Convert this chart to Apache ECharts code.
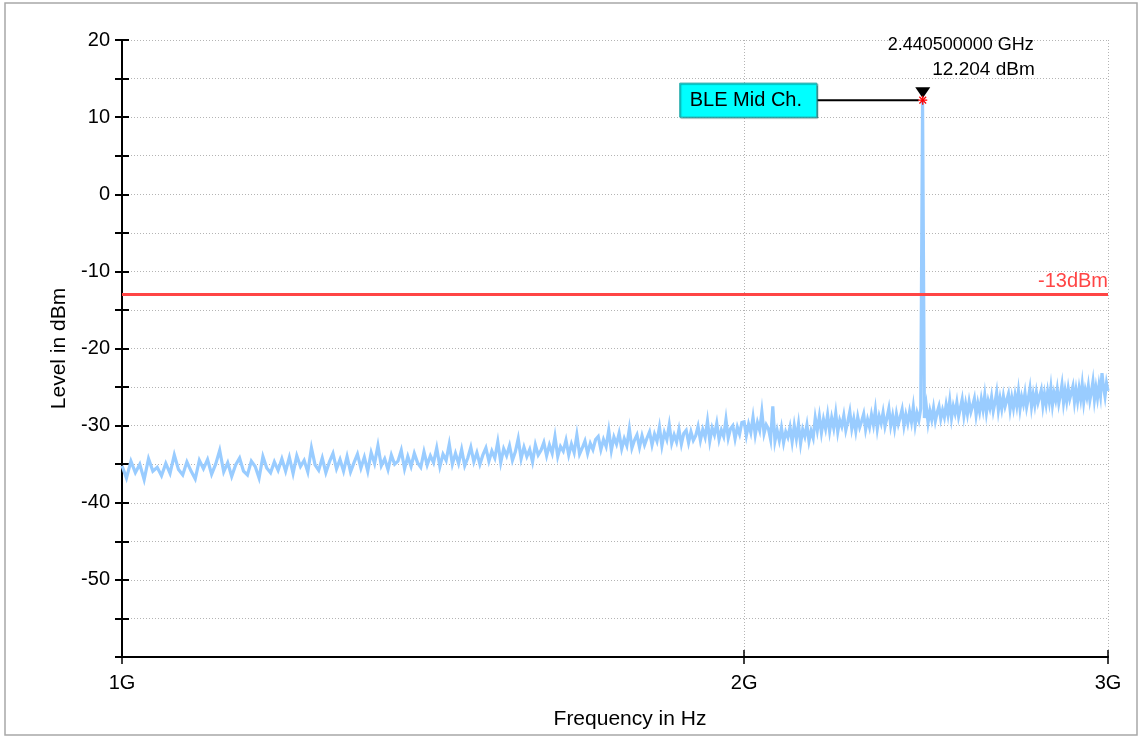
<!DOCTYPE html>
<html>
<head>
<meta charset="utf-8">
<script src="https://cdn.jsdelivr.net/npm/echarts@6/dist/echarts.min.js"></script>
<style>
html,body{margin:0;padding:0;background:#fff;}
#chart{width:1141px;height:740px;}
</style>
</head>
<body>
<div id="chart"></div>
<script>
// Sweep: start frequency and step (MHz), one level per sweep point (dBm)
const sweepStartMHz = 1000;
const sweepStepMHz = 5;
const levels = [
  // 1000-1095
  -35.2,-36.8,-34.6,-36.1,-35.0,-37.0,-34.3,-35.9,-35.4,-36.5,-34.9,-36.2,-33.8,-35.7,-36.4,-34.7,-35.9,-36.9,-34.5,-35.6,
  // 1100-1195
  -34.4,-36.3,-35.0,-33.2,-36.0,-34.8,-36.6,-35.1,-34.2,-35.9,-36.4,-34.6,-35.3,-36.8,-34.0,-35.5,-36.1,-34.7,-35.8,-34.3,
  // 1200-1295
  -35.9,-34.1,-36.2,-33.9,-35.3,-34.5,-36.0,-32.9,-35.1,-35.8,-34.2,-36.1,-34.7,-33.6,-35.6,-34.4,-35.9,-34.0,-36.0,-34.8,
  // 1300-1395
  -33.7,-35.5,-34.1,-35.9,-33.5,-34.9,-32.6,-35.2,-34.3,-35.7,-33.8,-35.0,-34.6,-33.2,-35.6,-34.0,-35.3,-33.6,-34.8,-35.4,
  // 1400-1495
  -33.4,-35.1,-33.9,-34.8,-32.9,-35.3,-33.7,-34.5,-32.4,-35.0,-33.6,-34.9,-33.1,-35.2,-34.2,-32.8,-34.7,-33.5,-35.0,-33.8,
  // 1500-1595
  -32.9,-34.6,-33.3,-34.2,-32.1,-34.8,-33.0,-33.9,-32.6,-34.5,-33.4,-31.7,-34.3,-32.8,-34.0,-33.1,-34.7,-32.5,-33.8,-33.2,
  // 1600-1695
  -32.2,-33.9,-32.5,-33.6,-31.4,-34.0,-32.7,-33.3,-31.9,-33.8,-32.4,-33.5,-31.2,-33.7,-32.9,-32.0,-33.6,-32.3,-33.1,-31.8,
  // 1700-1795
  -31.4,-33.1,-31.8,-32.7,-30.6,-33.2,-31.5,-32.4,-31.0,-33.0,-31.7,-32.6,-30.4,-32.9,-31.9,-31.2,-32.8,-31.3,-32.5,-31.6,
  // 1800-1895
  -30.8,-32.5,-31.1,-32.0,-30.2,-32.6,-30.9,-31.8,-29.9,-32.3,-31.2,-32.1,-30.5,-32.4,-31.0,-30.6,-32.2,-30.8,-31.9,-31.3,
  // 1900-1995
  -30.1,-31.9,-30.5,-31.5,-29.4,-32.0,-30.3,-31.2,-29.7,-31.8,-30.6,-31.4,-29.2,-31.6,-30.4,-30.0,-31.7,-30.2,-31.1,-29.6,
  // 2000-2095
  -29.5,-31.3,-29.8,-30.9,-28.9,-31.2,-29.6,-30.6,-28.2,-31.0,-29.9,-30.4,-31.8,-27.5,-32.0,-30.6,-31.9,-30.3,-32.2,-30.8,
  // 2100-2195
  -31.5,-30.2,-32.1,-30.0,-31.7,-29.8,-32.3,-30.5,-31.4,-29.9,-32.0,-30.7,-31.6,-29.0,-30.6,-28.8,-30.9,-29.2,-30.4,-28.6,
  // 2200-2295
  -30.7,-29.0,-30.3,-28.4,-30.8,-29.3,-30.1,-28.7,-30.6,-29.5,-28.2,-30.4,-29.1,-30.7,-28.9,-30.2,-29.4,-28.5,-30.5,-29.2,
  // 2300-2395
  -30.2,-28.6,-29.9,-28.0,-30.4,-28.8,-29.7,-28.3,-30.1,-29.0,-27.8,-30.0,-28.7,-30.3,-28.5,-29.8,-28.9,-27.9,-30.0,-28.6,
  // 2400-2495
  -29.7,-28.2,-29.5,-27.6,-29.9,-28.4,-29.3,-27.8,12.204,-29.0,-27.4,-29.6,-28.1,-29.2,-27.7,-29.4,-28.3,-27.5,-29.1,-28.0,
  // 2500-2595
  -28.9,-27.3,-28.6,-26.8,-29.0,-27.5,-28.4,-27.0,-28.8,-27.7,-26.6,-28.7,-27.2,-28.5,-26.9,-28.2,-27.4,-26.5,-28.6,-27.1,
  // 2600-2695
  -28.2,-26.6,-27.9,-26.1,-28.3,-26.8,-27.7,-26.3,-28.1,-27.0,-25.7,-28.0,-26.5,-27.8,-26.2,-27.5,-26.7,-25.9,-27.9,-26.4,
  // 2700-2795
  -27.7,-26.1,-27.4,-25.6,-27.8,-26.3,-27.2,-25.8,-27.6,-26.5,-25.2,-27.5,-26.0,-27.3,-25.7,-27.0,-26.2,-25.4,-27.4,-25.9,
  // 2800-2895
  -27.2,-25.6,-26.9,-25.1,-27.3,-25.8,-26.7,-25.3,-27.1,-26.0,-24.7,-27.0,-25.5,-26.8,-25.2,-26.5,-25.7,-24.9,-26.9,-25.4,
  // 2900-3000
  -26.8,-25.2,-26.5,-24.7,-26.9,-25.4,-26.3,-24.9,-26.7,-25.6,-24.3,-26.6,-25.1,-26.4,-24.8,-26.1,-23.2,-25.0,-26.2,-24.5,-25.5
];
const xTicksHz = [1e9, 2e9, 3e9];
const xTickLabels = ['1G', '2G', '3G'];
const yMin = -60, yMax = 20, yStep = 5;
const limitLevel = -13;
const limitLabel = '-13dBm';
const markerFreqHz = 2440.5e6;
const markerLevel = 12.204;
const markerLine1 = '2.440500000 GHz';
const markerLine2 = '12.204 dBm';
const markerName = 'BLE Mid Ch.';

const FONT = 'Liberation Sans';
const trace = levels.map((v, i) => [(sweepStartMHz + i * sweepStepMHz) * 1e6, v]);

const chart = echarts.init(document.getElementById('chart'), null, {renderer: 'canvas'});
const gridLine = {show: true, lineStyle: {color: '#b4b4b4', width: 1, type: [1, 2]}};

const xBase = {
  type: 'log', logBase: 10, min: 1e9, max: 3e9, gridIndex: 0
};
const yBase = {
  type: 'value', min: yMin, max: yMax, interval: yStep, gridIndex: 0
};

chart.setOption({
  animation: false,
  backgroundColor: '#fff',
  grid: {left: 122, right: 33, top: 40, bottom: 83, containLabel: false},
  xAxis: [
    Object.assign({}, xBase, {
      position: 'bottom',
      name: 'Frequency in Hz',
      nameLocation: 'middle',
      nameGap: 52,
      nameTextStyle: {fontFamily: FONT, fontSize: 21, color: '#000', padding: [0, 0, 0, 30]},
      axisLine: {show: true, onZero: false, lineStyle: {color: '#000', width: 2}},
      axisTick: {show: true, inside: false, length: 7, customValues: xTicksHz, lineStyle: {color: '#000', width: 1.5}},
      axisLabel: {show: true, customValues: xTicksHz, margin: 16, fontFamily: FONT, fontSize: 20, color: '#000',
        formatter: v => xTickLabels[xTicksHz.findIndex(t => Math.abs(t - v) < 1e6)] || ''},
      splitLine: gridLine
    }),
    Object.assign({}, xBase, {
      position: 'bottom',
      axisLine: {show: false, onZero: false},
      axisTick: {show: true, inside: true, length: 7, customValues: xTicksHz, lineStyle: {color: '#000', width: 1.5}},
      axisLabel: {show: false},
      splitLine: {show: false}
    })
  ],
  yAxis: [
    Object.assign({}, yBase, {
      position: 'left',
      name: 'Level in dBm',
      nameLocation: 'middle',
      nameGap: 52,
      nameRotate: 90,
      nameTextStyle: {fontFamily: FONT, fontSize: 21, color: '#000'},
      axisLine: {show: true, onZero: false, lineStyle: {color: '#000', width: 2}},
      axisTick: {show: true, inside: false, length: 7, lineStyle: {color: '#000', width: 2}},
      axisLabel: {show: true, margin: 12, fontFamily: FONT, fontSize: 20, color: '#000',
        formatter: v => (v % 10 === 0 && v > yMin) ? String(v) : ''},
      splitLine: gridLine
    }),
    Object.assign({}, yBase, {
      position: 'left',
      axisLine: {show: false, onZero: false},
      axisTick: {show: true, inside: true, length: 7, lineStyle: {color: '#000', width: 2}},
      axisLabel: {show: false},
      splitLine: {show: false}
    })
  ],
  series: [
    {
      type: 'line',
      xAxisIndex: 0, yAxisIndex: 0,
      data: trace,
      showSymbol: false,
      symbol: 'none',
      lineStyle: {color: '#99ccff', width: 3.2, join: 'miter'},
      z: 3,
      markLine: {
        silent: true,
        symbol: ['none', 'none'],
        lineStyle: {color: '#ff4545', width: 3, type: 'solid'},
        label: {show: true, position: 'insideEndTop', formatter: limitLabel, color: '#ff4545',
          fontFamily: FONT, fontSize: 20, distance: [0, 3]},
        data: [{yAxis: limitLevel}]
      }
    }
  ]
});

function drawMarker() {
  const p = chart.convertToPixel({xAxisIndex: 0, yAxisIndex: 0}, [markerFreqHz, markerLevel]);
  const mx = p[0], my = p[1];
  const arm = 4.5;
  const redArm = (dx, dy) => ({
    type: 'line', shape: {x1: mx - dx, y1: my - dy, x2: mx + dx, y2: my + dy},
    style: {stroke: '#ff0000', lineWidth: 1.3}, z: 20
  });
  chart.setOption({
    graphic: [
      {type: 'rect', shape: {x: 5, y: 3, width: 1132, height: 732},
        style: {fill: 'none', stroke: '#a8a8a8', lineWidth: 1.5}, z: 1, silent: true},
      {type: 'line', shape: {x1: mx - 106, y1: my, x2: mx - 4, y2: my},
        style: {stroke: '#000', lineWidth: 2}, z: 15},
      {type: 'rect', shape: {x: mx - 243, y: my - 17, width: 137, height: 34},
        style: {fill: '#00ffff', stroke: '#2aa8a8', lineWidth: 1,
          shadowColor: 'rgba(0,90,90,0.6)', shadowOffsetX: 1, shadowOffsetY: 1, shadowBlur: 1}, z: 15},
      {type: 'text', x: mx - 233, y: my, z: 16,
        style: {text: markerName, fill: '#000', font: '20px "' + FONT + '"', textAlign: 'left', textVerticalAlign: 'middle'}},
      {type: 'polygon', shape: {points: [[mx - 7.5, my - 13], [mx + 7.5, my - 13], [mx, my - 2]]},
        style: {fill: '#000'}, z: 18},
      redArm(arm, 0), redArm(0, arm), redArm(arm * 0.75, arm * 0.75), redArm(arm * 0.75, -arm * 0.75),
      {type: 'text', x: mx + 111, y: my - 55, z: 16,
        style: {text: markerLine1, fill: '#000', font: '18px "' + FONT + '"', textAlign: 'right', textVerticalAlign: 'middle'}},
      {type: 'text', x: mx + 112, y: my - 30, z: 16,
        style: {text: markerLine2, fill: '#000', font: '19px "' + FONT + '"', textAlign: 'right', textVerticalAlign: 'middle'}}
    ]
  });
}
drawMarker();
</script>
</body>
</html>
